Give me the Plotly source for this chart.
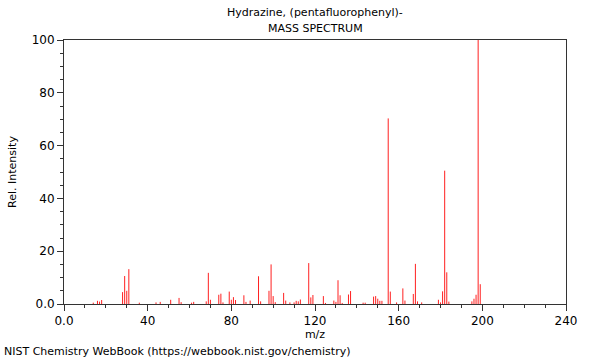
import plotly.graph_objects as go

mz = [14, 16, 17, 18, 28, 29, 30, 31, 36, 44, 46, 51, 55, 56, 61, 62, 68, 69, 70,
      74, 75, 76, 79, 80, 81, 82, 86, 87, 89, 93, 94, 98, 99, 100, 101, 105, 106,
      108, 110, 111, 112, 113, 117, 118, 119, 124, 125, 129, 130, 131, 132, 133,
      136, 137, 143, 144, 148, 149, 150, 151, 152, 155, 156, 159, 162, 163, 167,
      168, 169, 171, 179, 180, 181, 182, 183, 184, 195, 196, 197, 198, 199]
intensity = [0.5, 1.2, 0.9, 1.5, 4.5, 10.6, 5.0, 13.2, 0.5, 0.6, 0.8, 1.6, 2.3, 0.7,
             0.5, 0.8, 1.0, 11.8, 1.6, 3.5, 3.9, 0.6, 4.7, 1.6, 2.6, 1.5, 3.3, 0.8,
             1.3, 10.5, 1.0, 5.0, 15.0, 3.0, 0.7, 4.2, 1.3, 0.6, 0.6, 1.2, 1.0, 1.7,
             15.5, 2.5, 3.4, 3.0, 0.4, 1.3, 0.8, 9.0, 3.3, 0.4, 3.6, 4.9, 0.5, 0.5,
             2.8, 3.0, 2.0, 1.2, 1.2, 70.3, 4.7, 0.6, 5.9, 1.3, 3.8, 15.2, 1.0, 0.6,
             1.6, 0.6, 4.8, 50.5, 12.0, 0.9, 1.0, 2.0, 3.5, 100.0, 7.5]

title_lines = ["Hydrazine, (pentafluorophenyl)-", "MASS SPECTRUM"]
x_tickvals = [0, 40, 80, 120, 160, 200, 240]
x_ticktext = ["0.0", "40", "80", "120", "160", "200", "240"]
y_tickvals = [0, 20, 40, 60, 80, 100]
y_ticktext = ["0.0", "20", "40", "60", "80", "100"]

xs, ys = [], []
for m, v in zip(mz, intensity):
    xs += [m, m, None]
    ys += [0, v, None]

fig = go.Figure()
fig.add_trace(go.Scatter(x=xs, y=ys, mode="lines",
                         line=dict(color="#ff2020", width=1),
                         hoverinfo="skip", showlegend=False))

axcol = "#333333"
font = dict(family="DejaVu Sans", size=11, color="#000000")

fig.update_layout(
    width=600, height=360,
    margin=dict(l=62, r=34, t=40, b=56),
    paper_bgcolor="white", plot_bgcolor="white",
    font=font,
    showlegend=False,
)
fig.update_xaxes(
    range=[0, 240], showgrid=False, zeroline=False,
    showline=True, linecolor=axcol, linewidth=1, mirror=True,
    tickmode="array", tickvals=x_tickvals, ticktext=x_ticktext,
    ticks="outside", ticklen=6, tickcolor=axcol,
    minor=dict(dtick=10, tick0=0, ticks="outside", ticklen=3, tickcolor=axcol),
    title=dict(text="m/z", standoff=1, font=dict(size=11)),
    tickfont=dict(size=12),
)
fig.update_yaxes(
    range=[0, 100], showgrid=False, zeroline=False,
    showline=True, linecolor=axcol, linewidth=1, mirror=True,
    tickmode="array", tickvals=y_tickvals, ticktext=y_ticktext,
    ticks="outside", ticklen=6, tickcolor=axcol,
    minor=dict(dtick=5, tick0=0, ticks="outside", ticklen=3, tickcolor=axcol),
    title=dict(text="Rel. Intensity", standoff=12, font=dict(size=11)),
    tickfont=dict(size=12),
)
fig.add_annotation(text=title_lines[0], xref="paper", yref="paper",
                   x=0.5, y=1, yshift=19, showarrow=False, yanchor="bottom",
                   font=dict(size=11))
fig.add_annotation(text=title_lines[1], xref="paper", yref="paper",
                   x=0.5, y=1, yshift=3, showarrow=False, yanchor="bottom",
                   font=dict(size=11))
fig.add_annotation(text="NIST Chemistry WebBook (https://webbook.nist.gov/chemistry)",
                   xref="paper", yref="paper", x=-62/504, y=0, yshift=-56,
                   xanchor="left", yanchor="bottom", showarrow=False,
                   font=dict(size=11))

fig.write_html("out.html", config={"displayModeBar": False},
               post_script="document.body.style.margin='0';document.body.style.overflow='hidden';")
